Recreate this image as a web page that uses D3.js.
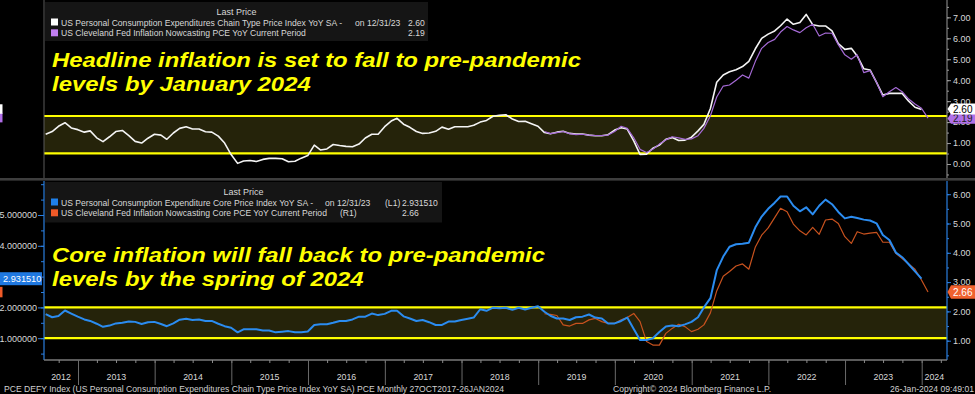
<!DOCTYPE html>
<html>
<head>
<meta charset="utf-8">
<script src="https://cdn.jsdelivr.net/npm/d3@7"></script>
<style>
body { margin: 0; background: #000; }
svg { display: block; }
text { font-family: "Liberation Sans", Arial, sans-serif; }
</style>
</head>
<body>
<svg id="chart" width="975" height="394"></svg>
<script>
// monthly values, month-end dates
var mainStart = [2012, 7];      // Jul 2012 .. Dec 2023
var nowcastStart = [2019, 1];   // Jan 2019 .. Jan 2024

var headlinePce = [
  1.42, 1.55, 1.80, 1.97, 1.72, 1.64,
  1.52, 1.58, 1.25, 1.07, 1.30, 1.55, 1.60, 1.35, 1.08, 1.00, 1.23, 1.42,
  1.38, 1.18, 1.48, 1.70, 1.78, 1.67, 1.67, 1.54, 1.52, 1.33, 1.00, 0.45,
  0.03, 0.14, 0.17, 0.12, 0.22, 0.27, 0.27, 0.25, 0.11, 0.13, 0.28, 0.40,
  0.90, 0.67, 0.72, 0.93, 0.88, 0.84, 0.82, 0.95, 1.24, 1.42, 1.42, 1.78,
  2.05, 2.18, 1.90, 1.75, 1.55, 1.46, 1.48, 1.56, 1.76, 1.66, 1.78, 1.78,
  1.78, 1.85, 2.00, 2.08, 2.28, 2.32, 2.35, 2.15, 2.03, 2.04, 1.92, 1.80,
  1.50, 1.44, 1.52, 1.56, 1.46, 1.43, 1.43, 1.38, 1.35, 1.35, 1.40, 1.62,
  1.73, 1.67, 1.10, 0.46, 0.47, 0.75, 0.90, 1.18, 1.26, 1.12, 1.14, 1.28,
  1.58, 1.89, 2.65, 3.90, 4.25, 4.40, 4.50, 4.65, 4.90, 5.50, 6.00, 6.20,
  6.35, 6.60, 6.92, 6.67, 6.75, 7.14, 6.65, 6.59, 6.59, 6.35, 5.75, 5.47,
  5.52, 5.16, 4.55, 4.49, 3.90, 3.29, 3.37, 3.37, 3.37, 3.00, 2.71, 2.60
];
var nowcastPce = [
  1.55, 1.45, 1.50, 1.55, 1.45, 1.40, 1.42, 1.38, 1.36, 1.36, 1.38, 1.55,
  1.80, 1.70, 1.25, 0.70, 0.55, 0.70, 0.95, 1.15, 1.30, 1.25, 1.18, 1.20,
  1.35, 1.70, 2.30, 3.20, 3.72, 3.77, 4.00, 4.25, 4.10, 4.90, 5.52, 5.80,
  5.95, 6.30, 6.56, 6.40, 6.27, 6.50, 6.67, 6.11, 6.25, 6.24, 5.70, 5.21,
  5.00, 5.21, 4.36, 4.46, 3.90, 3.21, 3.45, 3.65, 3.45, 3.10, 2.86, 2.66,
  2.19
];
var corePce = [
  1.78, 1.68, 1.72, 1.90, 1.80, 1.70,
  1.61, 1.56, 1.47, 1.37, 1.41, 1.48, 1.50, 1.54, 1.53, 1.46, 1.52, 1.53,
  1.46, 1.39, 1.48, 1.60, 1.63, 1.59, 1.61, 1.56, 1.56, 1.47, 1.39, 1.34,
  1.19, 1.29, 1.29, 1.29, 1.25, 1.25, 1.19, 1.21, 1.23, 1.19, 1.19, 1.22,
  1.43, 1.45, 1.45, 1.50, 1.56, 1.56, 1.61, 1.70, 1.70, 1.80, 1.75, 1.79,
  1.89, 1.89, 1.71, 1.64, 1.56, 1.59, 1.52, 1.43, 1.43, 1.54, 1.54, 1.59,
  1.63, 1.67, 1.94, 1.89, 1.99, 1.97, 1.99, 1.92, 1.99, 1.93, 1.99, 2.04,
  1.86, 1.73, 1.64, 1.64, 1.59, 1.68, 1.70, 1.77, 1.67, 1.64, 1.48, 1.48,
  1.56, 1.67, 1.30, 0.94, 0.94, 1.00, 1.20, 1.38, 1.41, 1.39, 1.45, 1.53,
  1.68, 2.00, 2.30, 3.20, 3.65, 3.97, 4.05, 4.07, 4.10, 4.60, 4.95, 5.20,
  5.40, 5.60, 5.60, 5.30, 5.12, 5.25, 5.02, 5.30, 5.50, 5.35, 5.10, 4.89,
  4.94, 4.90, 4.85, 4.82, 4.73, 4.35, 4.19, 3.78, 3.63, 3.40, 3.17, 2.93151
];
var nowcastCore = [
  1.92, 1.90, 1.86, 1.54, 1.50, 1.59, 1.59, 1.71, 1.76, 1.65, 1.59, 1.59,
  1.71, 1.79, 1.93, 1.65, 0.97, 0.85, 0.85, 1.25, 1.42, 1.56, 1.48, 1.31,
  1.39, 1.54, 1.95, 2.70, 3.20, 3.36, 3.55, 3.62, 3.44, 4.20, 4.60, 4.85,
  5.20, 5.52, 5.40, 4.98, 4.75, 4.61, 4.87, 4.63, 5.12, 5.15, 5.00, 4.55,
  4.32, 4.72, 4.64, 4.67, 4.70, 4.36, 4.36, 3.98, 3.80, 3.62, 3.44, 3.07,
  2.66
];

var topBand = [0.51, 2.29];
var coreBand = [1, 2];
var topTicks = [0, 1, 2, 3, 4, 5, 6, 7];
var leftTicks = [1, 2, 4, 5];   // 3.000000 sits under the last-value tag
var rightTicks = [1, 2, 3, 4, 5, 6];
var yearLabels = [2012, 2013, 2014, 2015, 2016, 2017, 2018, 2019, 2020, 2021, 2022, 2023, 2024];

var headlineNote = ['Headline inflation is set to fall to pre-pandemic', 'levels by January 2024'];
var coreNote = ['Core inflation will fall back to pre-pandemic', 'levels by the spring of 2024'];

var svg = d3.select('#chart');
var left = 44, right = 947;
var topPanel = [0, 178], botPanel = [181, 360];

var x = d3.scaleTime().domain([new Date(2013, 0, 1), new Date(2024, 0, 1)]).range([78, 921.7]);
var yTop = d3.scaleLinear().domain([0, 7]).range([164, 17.35]);
var yL = d3.scaleLinear().domain([0, 5]).range([369, 215]);
var yR = d3.scaleLinear().domain([0, 6]).range([370, 194.2]);

function series(start, values) {
  return values.map(function(v, i) {
    return {date: new Date(start[0], start[1] - 1 + i + 1, 0), v: v};
  });
}

var defs = svg.append('defs');
defs.append('clipPath').attr('id', 'clipTop').append('rect')
  .attr('x', left).attr('y', topPanel[0]).attr('width', right - left).attr('height', topPanel[1] - topPanel[0]);
defs.append('clipPath').attr('id', 'clipBot').append('rect')
  .attr('x', left).attr('y', botPanel[0]).attr('width', right - left).attr('height', botPanel[1] - botPanel[0]);

// panel separator
svg.append('rect').attr('x', 0).attr('y', 178).attr('width', 975).attr('height', 2.6).attr('fill', '#3e3e3e');

// bands
function band(yScale, vals) {
  svg.append('rect').attr('x', left).attr('width', right - left)
    .attr('y', yScale(vals[1])).attr('height', yScale(vals[0]) - yScale(vals[1]))
    .attr('fill', '#25230a');
  vals.forEach(function(v) {
    svg.append('line').attr('x1', left).attr('x2', right)
      .attr('y1', yScale(v)).attr('y2', yScale(v))
      .attr('stroke', '#ffff00').attr('stroke-width', 2.2);
  });
}
band(yTop, topBand);
band(yL, coreBand);

function drawLine(data, yScale, color, width, clip) {
  var line = d3.line().x(function(d) { return x(d.date); }).y(function(d) { return yScale(d.v); });
  svg.append('path').datum(data).attr('d', line)
    .attr('clip-path', 'url(#' + clip + ')')
    .attr('fill', 'none').attr('stroke', color).attr('stroke-width', width)
    .attr('stroke-linejoin', 'round');
}
drawLine(series(mainStart, headlinePce), yTop, '#f4f4f4', 1.6, 'clipTop');
drawLine(series(nowcastStart, nowcastPce), yTop, '#a56ad6', 1.2, 'clipTop');
drawLine(series(nowcastStart, nowcastCore), yR, '#c8521e', 1.2, 'clipBot');
drawLine(series(mainStart, corePce), yL, '#2b8cf0', 2, 'clipBot');

// legends
function legend(box, rows) {
  svg.append('rect').attr('x', box[0]).attr('y', box[1]).attr('width', box[2]).attr('height', box[3]).attr('fill', '#151515');
  svg.append('text').attr('x', box[0] + box[2] / 2).attr('y', box[1] + 13)
    .attr('text-anchor', 'middle').attr('font-size', 9).attr('fill', '#d8d8d8').text('Last Price');
  rows.forEach(function(r, i) {
    var yb = box[1] + 23.5 + i * 10.8;
    svg.append('rect').attr('x', 51).attr('y', yb - 7).attr('width', 7).attr('height', 7).attr('fill', r.color);
    r.parts.forEach(function(p) {
      svg.append('text').attr('x', p[0]).attr('y', yb).attr('font-size', 8.6).attr('fill', '#d8d8d8').text(p[1]);
    });
  });
}
legend([45, 2, 383, 39], [
  {color: '#ffffff', parts: [[61, 'US Personal Consumption Expenditures Chain Type Price Index YoY SA -'], [355, 'on 12/31/23'], [408, '2.60']]},
  {color: '#c07ef0', parts: [[61, 'US Cleveland Fed Inflation Nowcasting PCE YoY Current Period'], [408, '2.19']]}
]);
legend([45, 182, 397, 40.5], [
  {color: '#1f80ea', parts: [[61, 'US Personal Consumption Expenditure Core Price Index YoY SA -'], [325, 'on 12/31/23'], [385, '(L1)'], [402, '2.931510']]},
  {color: '#f05a28', parts: [[61, 'US Cleveland Fed Inflation Nowcasting Core PCE YoY Current Period'], [340, '(R1)'], [402, '2.66']]}
]);

// annotations
function note(lines, baseline, width) {
  var t = lines.map(function(s, i) {
    return svg.append('text').attr('x', 52).attr('y', baseline + i * 23.5)
      .attr('font-family', '"DejaVu Sans", Verdana, sans-serif')
      .attr('font-weight', 'bold').attr('font-style', 'italic')
      .attr('font-size', 21).attr('fill', '#ffff00').text(s);
  });
  var k = width / t[0].node().getComputedTextLength();
  t.forEach(function(s) {
    s.attr('textLength', s.node().getComputedTextLength() * k).attr('lengthAdjust', 'spacingAndGlyphs');
  });
}
note(headlineNote, 67, 529);
note(coreNote, 262, 493);

// axes
function styleAxis(g, color) {
  g.select('.domain').remove();
  g.selectAll('.tick line').attr('stroke', color);
  g.selectAll('.tick text').attr('fill', '#d8d8d8').attr('font-size', 9)
    .attr('font-family', '"Liberation Sans", Arial, sans-serif');
}
function halves(a, b) { return d3.range(a, b + 0.01, 0.5); }

// top panel
svg.append('line').attr('x1', left).attr('x2', left).attr('y1', 0).attr('y2', 178).attr('stroke', '#5a5a5a');
svg.append('line').attr('x1', right).attr('x2', right).attr('y1', 0).attr('y2', 178).attr('stroke', '#9a9a9a');
var gTopMinor = svg.append('g').attr('transform', 'translate(' + right + ',0)')
  .call(d3.axisRight(yTop).tickValues(halves(-0.5, 7.5)).tickSize(2).tickFormat(''));
styleAxis(gTopMinor, '#9a9a9a');
var gTop = svg.append('g').attr('transform', 'translate(' + right + ',0)')
  .call(d3.axisRight(yTop).tickValues(topTicks).tickSize(4).tickPadding(2).tickFormat(d3.format('.2f')));
styleAxis(gTop, '#9a9a9a');

// bottom panel
svg.append('line').attr('x1', left).attr('x2', left).attr('y1', botPanel[0]).attr('y2', botPanel[1]).attr('stroke', '#2b7fe0').attr('stroke-width', 1.2);
svg.append('line').attr('x1', right).attr('x2', right).attr('y1', botPanel[0]).attr('y2', botPanel[1]).attr('stroke', '#2b7fe0').attr('stroke-width', 1.2);
var gLMinor = svg.append('g').attr('transform', 'translate(' + left + ',0)')
  .call(d3.axisLeft(yL).tickValues(halves(0.5, 6)).tickSize(3).tickFormat(''));
styleAxis(gLMinor, '#2b7fe0');
var gL = svg.append('g').attr('transform', 'translate(' + left + ',0)')
  .call(d3.axisLeft(yL).tickValues(leftTicks).tickSize(6).tickPadding(1).tickFormat(d3.format('.6f')));
styleAxis(gL, '#2b7fe0');
var gRMinor = svg.append('g').attr('transform', 'translate(' + right + ',0)')
  .call(d3.axisRight(yR).tickValues(halves(0.5, 6)).tickSize(2).tickFormat(''));
styleAxis(gRMinor, '#2b7fe0');
var gR = svg.append('g').attr('transform', 'translate(' + right + ',0)')
  .call(d3.axisRight(yR).tickValues(rightTicks).tickSize(4).tickPadding(2).tickFormat(d3.format('.2f')));
styleAxis(gR, '#2b7fe0');

// x axis
svg.append('line').attr('x1', left).attr('x2', right).attr('y1', 360).attr('y2', 360).attr('stroke', '#7a7a7a').attr('stroke-width', 1.5);
var quarters = d3.timeMonth.every(3).range(new Date(2012, 9, 1), new Date(2024, 3, 2));
var gQ = svg.append('g').attr('transform', 'translate(0,360)')
  .call(d3.axisBottom(x).tickValues(quarters).tickSize(3).tickFormat(''));
styleAxis(gQ, '#8a8a8a');
var years = d3.timeYear.range(new Date(2013, 0, 1), new Date(2024, 0, 2));
var gY = svg.append('g').attr('transform', 'translate(0,360)')
  .call(d3.axisBottom(x).tickValues(years).tickSize(25).tickFormat(''));
styleAxis(gY, '#6a6a6a');
yearLabels.forEach(function(yr) {
  var a = Math.max(left, x(new Date(yr, 0, 1)));
  var b = Math.min(right, x(new Date(yr + 1, 0, 1)));
  svg.append('text').attr('x', (a + b) / 2).attr('y', 380).attr('text-anchor', 'middle')
    .attr('font-size', 8.8).attr('fill', '#d8d8d8').text(yr);
});

// footer
svg.append('text').attr('x', 4).attr('y', 391.5).attr('font-size', 8.6).attr('fill', '#d0d0d0')
  .text('PCE DEFY Index (US Personal Consumption Expenditures Chain Type Price Index YoY SA) PCE  Monthly 27OCT2017-26JAN2024');
svg.append('text').attr('x', 692).attr('y', 391.5).attr('text-anchor', 'middle').attr('font-size', 8.6).attr('fill', '#d0d0d0')
  .text('Copyright\u00a9 2024 Bloomberg Finance L.P.');
svg.append('text').attr('x', 974).attr('y', 391.5).attr('text-anchor', 'end').attr('font-size', 8.6).attr('fill', '#d0d0d0')
  .text('26-Jan-2024 09:49:01');

// last value tags
function rightTag(yc, h, fill, color, label) {
  svg.append('path')
    .attr('d', 'M' + (right + 0.5) + ',' + yc + 'L' + (right + 4) + ',' + (yc - h / 2) + 'L975,' + (yc - h / 2) +
      'L975,' + (yc + h / 2) + 'L' + (right + 4) + ',' + (yc + h / 2) + 'Z')
    .attr('fill', fill);
  svg.append('text').attr('x', right + 6).attr('y', yc + 3.6).attr('font-size', 10).attr('fill', color).text(label);
}
function leftStub(yc, h, fill) {
  svg.append('rect').attr('x', 0).attr('y', yc - h / 2).attr('width', 2.5).attr('height', h).attr('fill', fill);
}
var lastHead = headlinePce[headlinePce.length - 1];
var lastNow = nowcastPce[nowcastPce.length - 1];
var lastCore = corePce[corePce.length - 1];
var lastNowCore = nowcastCore[nowcastCore.length - 1];

leftStub(yTop(lastNow) - 0.5, 9.5, '#b06ee8');
leftStub(yTop(lastHead) - 0.5, 9.5, '#ffffff');
rightTag(yTop(lastNow) + 0.5, 10.5, '#b070e8', '#222', d3.format('.2f')(lastNow));
rightTag(yTop(lastHead) - 0.5, 11, '#ffffff', '#000', d3.format('.2f')(lastHead));

leftStub(yR(lastNowCore), 10.5, '#f05a28');
rightTag(yR(lastNowCore), 13.5, '#f0612e', '#ffffff', d3.format('.2f')(lastNowCore));
svg.append('rect').attr('x', 0).attr('y', yL(lastCore) - 6.5).attr('width', 42).attr('height', 13).attr('fill', '#1f78e0');
svg.append('text').attr('x', 3).attr('y', yL(lastCore) + 3.3).attr('font-size', 9.2).attr('fill', '#ffffff').text(d3.format('.6f')(lastCore));
</script>
</body>
</html>
